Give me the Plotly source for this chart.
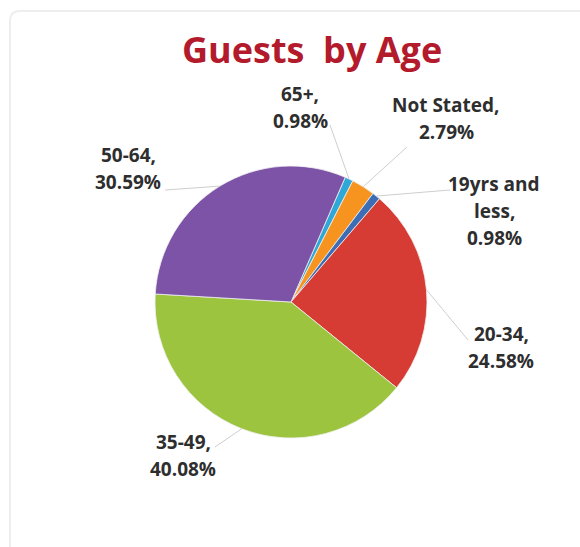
import math
import plotly.graph_objects as go

# Guest share by age group (percent), in drawing order starting near 12 o'clock
categories = ["65+", "Not Stated", "19yrs and less", "20-34", "35-49", "50-64"]
shares = [0.98, 2.79, 0.98, 24.58, 40.08, 30.59]
# How each category name is wrapped in its outside label
label_names = [["65+,"], ["Not Stated,"], ["19yrs and", "less,"], ["20-34,"], ["35-49,"], ["50-64,"]]
colors = ["#2EA7D9", "#F7941F", "#3C6DB5", "#D63B34", "#9CC43E", "#7C53A7"]

W, H = 580, 547
CX, CY, R = 291, 302, 136          # pie centre and radius, px
ROTATION = 23.5                    # start angle of first slice, degrees clockwise from top
LINE_GAP = 27                      # px between label lines

# label block centre (x, y of first line) and leader end next to the label, px
label_pos = [(300, 94), (446, 105), (494, 184), (501, 334), (183, 442), (128, 155)]
leader_end = [(330, 125), (407, 147), (450, 190), (468, 340), (215, 447), (165, 190)]


def px(x):
    return x / W


def py(y):
    return 1 - y / H


fig = go.Figure(
    go.Pie(
        labels=categories,
        values=shares,
        sort=False,
        direction="clockwise",
        rotation=ROTATION,
        textinfo="none",
        hoverinfo="label+percent",
        marker=dict(colors=colors, line=dict(color="rgba(240,240,240,0.8)", width=1)),
        domain=dict(x=[px(CX - R), px(CX + R)], y=[py(CY + R), py(CY - R)]),
        showlegend=False,
    )
)

annotations = []
shapes = []

# card-like frame behind the chart
rx = 10
x0, y0, x1, y1 = 10, 11, 640, 620
frame = (
    f"M {px(x0 + rx)},{py(y0)} L {px(x1)},{py(y0)} L {px(x1)},{py(y1)} "
    f"L {px(x0)},{py(y1)} L {px(x0)},{py(y0 + rx)} "
    f"Q {px(x0)},{py(y0)} {px(x0 + rx)},{py(y0)} Z"
)
shapes.append(dict(type="path", xref="paper", yref="paper", path=frame,
                   line=dict(color="#EEEEEE", width=2), fillcolor="rgba(0,0,0,0)", layer="below"))

total = sum(shares)
cum = 0.0
for i, (name_lines, v) in enumerate(zip(label_names, shares)):
    mid = ROTATION + (cum + v / 2) / total * 360
    cum += v
    a = math.radians(mid)
    ex, ey = CX + R * math.sin(a), CY - R * math.cos(a)
    lx, ly = leader_end[i]
    shapes.append(dict(type="line", xref="paper", yref="paper",
                       x0=px(ex), y0=py(ey), x1=px(lx), y1=py(ly),
                       line=dict(color="#CFCFCF", width=1)))
    lines = name_lines + [f"{v:.2f}%"]
    cxl, cyl = label_pos[i]
    for k, t in enumerate(lines):
        annotations.append(dict(
            x=px(cxl), y=py(cyl + k * LINE_GAP), xref="paper", yref="paper",
            text=t, showarrow=False, xanchor="center", yanchor="middle",
            font=dict(family="Open Sans", size=19, color="#2E2E2E", weight=700),
        ))

annotations.append(dict(
    x=px(312), y=py(50), xref="paper", yref="paper",
    text="Guests\u00a0 by Age", showarrow=False, xanchor="center", yanchor="middle",
    font=dict(family="Open Sans", size=36, color="#B31B2C", weight=700),
))

fig.update_layout(
    width=W, height=H,
    margin=dict(l=0, r=0, t=0, b=0),
    paper_bgcolor="white",
    plot_bgcolor="white",
    annotations=annotations,
    shapes=shapes,
)

fig.write_html("out.html")
